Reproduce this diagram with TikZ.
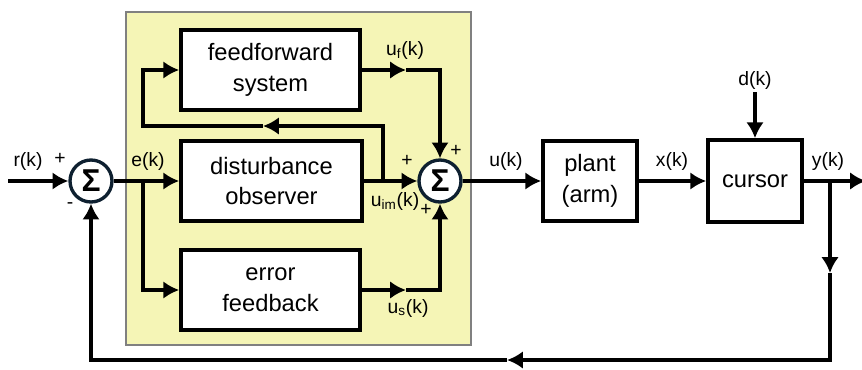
\documentclass[tikz,border=0pt]{standalone}
\usepackage{fontspec}
\setmainfont{Liberation Sans}
\usepackage{tikz}
\usetikzlibrary{arrows.meta}
\usetikzlibrary{positioning}
\definecolor{panel}{RGB}{245,245,182}
\definecolor{ring}{RGB}{14,32,48}
\tikzset{>={Latex[length=9pt,width=10pt]}}
\tikzstyle{blk} = [rectangle, draw=black, line width=2.1pt, fill=white, minimum height=1.6cm, align=center, font=\fontsize{13.5}{17.5}\selectfont]
\tikzstyle{sum} = [circle, draw=ring, line width=1.9pt, fill=white, minimum size=0.84cm, inner sep=0, font=\fontsize{18}{18}\selectfont\bfseries]
\tikzstyle{sig} = [draw=none, inner sep=1, font=\fontsize{11}{13}\selectfont]
\tikzstyle{sgn} = [draw=none, inner sep=0, font=\fontsize{11}{11}\selectfont]

\begin{document}
\begin{tikzpicture}[x=0.02cm, y=-0.02cm, line width=1.9pt]
\useasboundingbox (0,0) rectangle (862,369);
% controller panel
\filldraw [fill=panel, draw=gray, line width=0.6pt] (126,12) rectangle (471,345);

\node [sum] (S1) at (91,181) {Σ};
\node [sum] (S2) at (440,181) {Σ};
\node [blk, minimum width=3.58cm] (FF) at (270.5,70) {feedforward\\system};
\node [blk, minimum width=3.62cm] (DO) at (271.5,181) {disturbance\\observer};
\node [blk, minimum width=3.58cm] (EF) at (270.5,290) {error\\feedback};
\node [blk, minimum width=1.88cm] (P) at (590,181) {plant\\(arm)};
\node [blk, minimum width=1.88cm, minimum height=1.64cm] (C) at (755,181) {cursor};

% branch points and mid-line arrow tips
\coordinate (Rin) at (8,181);
\coordinate (Eb) at (143,181);
\coordinate (Ib) at (383,181);
\coordinate (Lm) at (263,126);
\coordinate (Fa) at (406,70);
\coordinate (Sa) at (406,290);
\coordinate (Yb) at (830,181);
\coordinate (Ya) at (830,273);
\coordinate (Ba) at (507,360);
\coordinate (Yout) at (866,181);

\draw [->] (Rin) -- (S1);
\draw [->] (S1) -- (DO);
\draw [->] (Eb) |- (EF);
\draw [->] (DO) -- (S2);
\draw [->] (Ib) |- (Lm);
\draw [->] (Lm) -- (Lm -| Eb) |- (FF);
\draw [->] (FF) -- (Fa);
\draw [->] (Fa) -| (S2);
\draw [->] (EF) -- (Sa);
\draw [->] (Sa) -| (S2);
\draw [->] (S2) -- (P);
\draw [->] (P) -- (C);
\node [sig] (dk) at (755,80) {d(k)};
\draw [->] (dk) -- (C);
\draw [->] (C) -- (Yout);
\draw [->] (Yb) -- (Ya);
\draw [->] (Ya) |- (Ba);
\draw [->] (Ba) -| (S1);

% signals
\node [sig] (rk) at (28,161) {r(k)};
\node [sig] (ek) at (148,161) {e(k)};
\node [sig] (uf) at (405,50) {u\textsubscript{f}(k)};
\node [sig] (uim) at (395,201) {u\textsubscript{im}(k)};
\node [sig] (us) at (408,308) {u\textsubscript{s}(k)};
\node [sig] (uk) at (506,161) {u(k)};
\node [sig] (xk) at (672,161) {x(k)};
\node [sig] (yk) at (828,161) {y(k)};

% signs at the summing junctions
\node [sgn] (p1) at (60,159) {+};
\node [sgn] (m1) at (70,206) {-};
\node [sgn] (p2) at (407,161) {+};
\node [sgn] (p3) at (456,151) {+};
\node [sgn] (p4) at (426,210) {+};
\end{tikzpicture}
\end{document}
